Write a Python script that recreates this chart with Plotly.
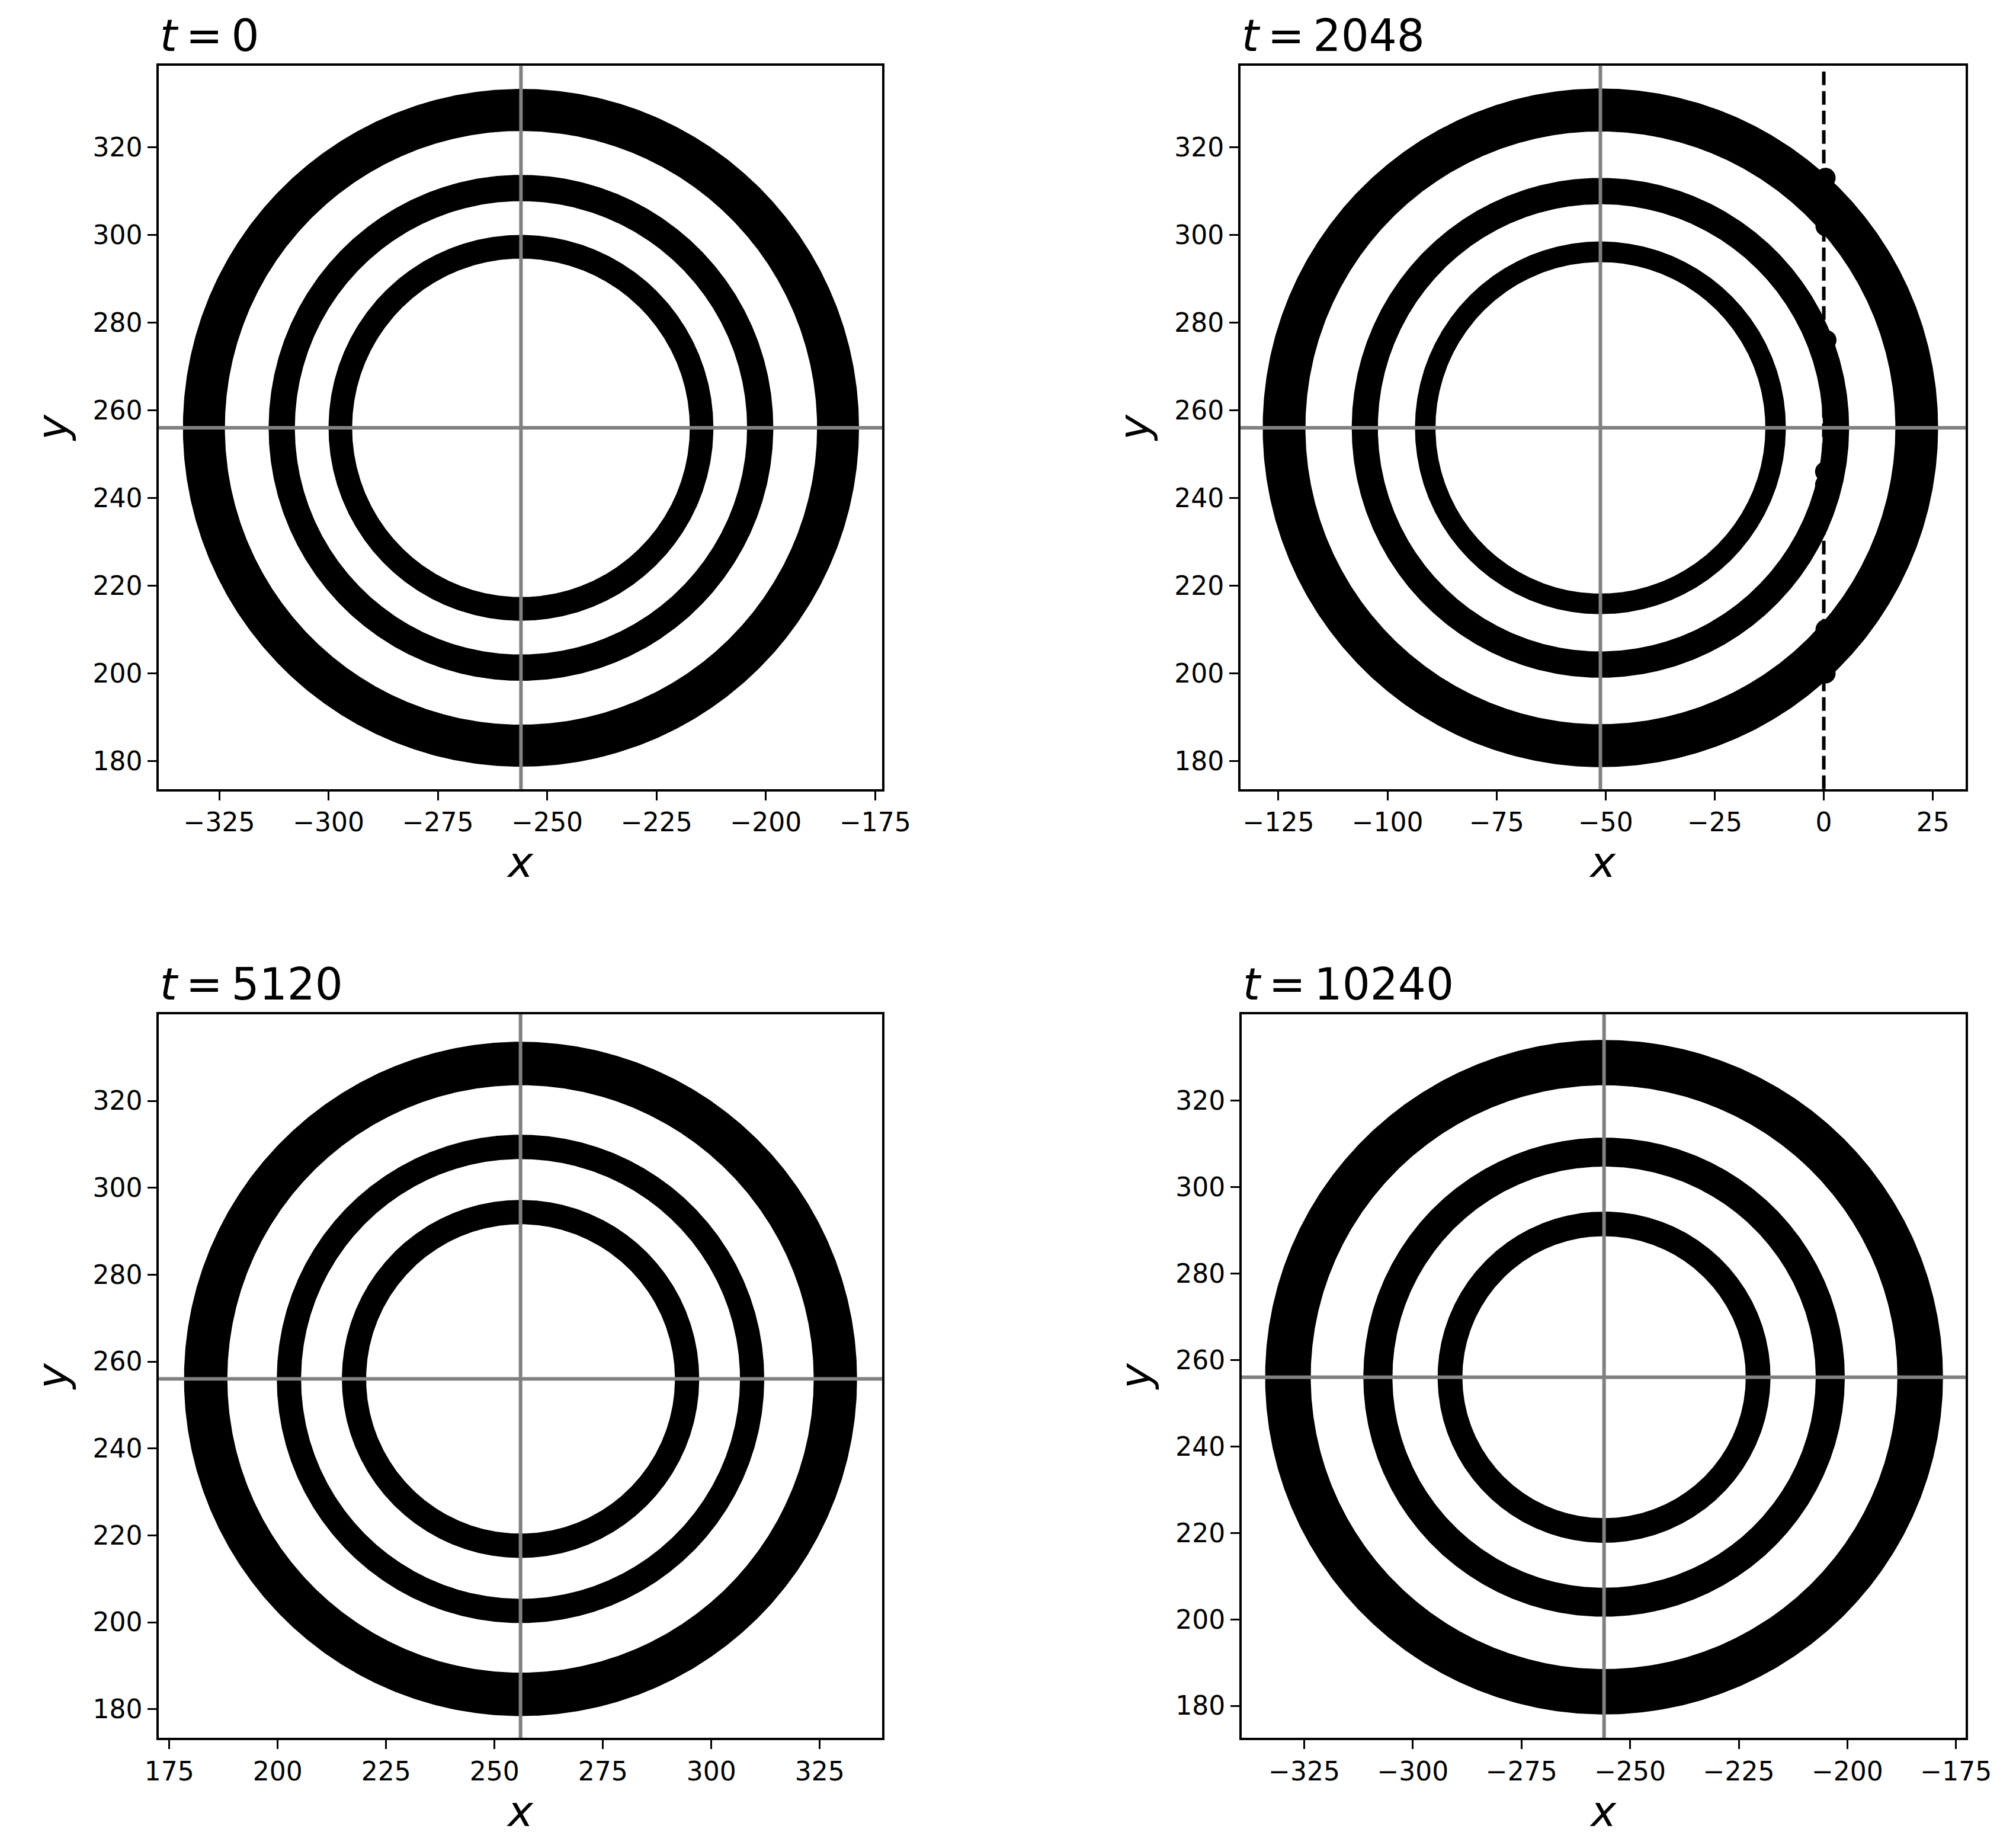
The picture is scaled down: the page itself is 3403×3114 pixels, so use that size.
import numpy as np
import plotly.graph_objects as go

# panel times and ring geometry
times = [0, 2048, 5120, 10240]
center_x = [-256.0, -51.2, 256.0, -256.0]
center_y = [256.0, 256.0, 256.0, 256.0]
ring_inner = [[38.6, 51.7, 67.7], [37.8, 51.0, 67.6], [35.6, 50.6, 67.6], [32.6, 48.7, 67.5]]
ring_outer = [[44.0, 57.7, 77.3], [42.5, 57.0, 77.4], [41.2, 56.2, 77.6], [38.3, 55.4, 78.0]]

x_ranges = [[-338.8, -173.4], [-133.7, 32.5], [172.6, 339.4], [-339.4, -172.8]]
y_ranges = [[173.6, 338.6], [173.6, 338.6], [173.4, 339.9], [172.6, 339.9]]
x_ticks = [[-325, -300, -275, -250, -225, -200, -175],
           [-125, -100, -75, -50, -25, 0, 25],
           [175, 200, 225, 250, 275, 300, 325],
           [-325, -300, -275, -250, -225, -200, -175]]
y_ticks = [180, 200, 220, 240, 260, 280, 300, 320]

# periodic boundary (panel t=2048) and particle clumps sitting on it
boundary_x = 0.0
blob_x = [0.4, 0.4, 0.4, 0.4, 0.6, 0.6, 0.3, 0.3, 0.4, 0.4]
blob_y = [313.0, 309.0, 305.0, 302.0, 276.0, 270.0, 246.0, 243.0, 210.0, 200.0]

# axes boxes in paper coordinates (page body adds an 8 px offset)
W, H = 3403, 3114
dx, dy = 8 / W, 8 / H
x_domains = [[0.0788 - dx, 0.4376 - dx], [0.6153 - dx, 0.9750 - dx],
             [0.0788 - dx, 0.4376 - dx], [0.6159 - dx, 0.9750 - dx]]
y_domains = [[0.5723 + dy, 0.9644 + dy], [0.5723 + dy, 0.9644 + dy],
             [0.0581 + dy, 0.4502 + dy], [0.0581 + dy, 0.4502 + dy]]

FONT = "DejaVu Sans"
GREY = "#808080"


def annulus(cx, cy, r_in, r_out, n=721):
    """Closed outline of a ring: outer edge counter-clockwise, inner edge clockwise."""
    th = np.linspace(0, 2 * np.pi, n)
    xs = np.concatenate([cx + r_out * np.cos(th), cx + r_in * np.cos(th[::-1])])
    ys = np.concatenate([cy + r_out * np.sin(th), cy + r_in * np.sin(th[::-1])])
    return xs, ys


def fmt(v):
    return f"\u2212{abs(v)}" if v < 0 else str(v)


fig = go.Figure()
layout = dict(
    width=W, height=H,
    margin=dict(l=0, r=0, t=0, b=0, autoexpand=False),
    paper_bgcolor="white", plot_bgcolor="white",
    showlegend=False,
    font=dict(family=FONT, color="black"),
)
shapes = []
annotations = []

for i in range(4):
    sfx = "" if i == 0 else str(i + 1)
    xa, ya = "x" + sfx, "y" + sfx

    for r_in, r_out in zip(ring_inner[i], ring_outer[i]):
        xs, ys = annulus(center_x[i], center_y[i], r_in, r_out)
        fig.add_trace(go.Scatter(
            x=xs, y=ys, xaxis=xa, yaxis=ya,
            mode="lines", fill="toself", fillcolor="black",
            line=dict(width=0, color="black"), hoverinfo="skip",
        ))

    if i == 1:
        fig.add_trace(go.Scatter(
            x=blob_x, y=blob_y, xaxis=xa, yaxis=ya, mode="markers",
            marker=dict(size=34, color="black", line=dict(width=0)),
            hoverinfo="skip",
        ))
        shapes.append(dict(type="line", xref=xa, yref=ya + " domain",
                           x0=boundary_x, x1=boundary_x, y0=0, y1=1,
                           line=dict(color="black", width=6, dash="23px,10px")))

    # cross-hair through the ring centre
    shapes.append(dict(type="line", xref=xa + " domain", yref=ya,
                       x0=0, x1=1, y0=center_y[i], y1=center_y[i],
                       line=dict(color=GREY, width=6)))
    shapes.append(dict(type="line", xref=xa, yref=ya + " domain",
                       x0=center_x[i], x1=center_x[i], y0=0, y1=1,
                       line=dict(color=GREY, width=6)))

    axis_common = dict(
        showgrid=False, zeroline=False, automargin=False,
        showline=True, mirror=True, linecolor="black", linewidth=3.5,
        ticks="outside", ticklen=15, tickwidth=3.3, tickcolor="black",
        tickfont=dict(family=FONT, size=44, color="black"),
    )
    layout["xaxis" + sfx] = dict(
        axis_common, domain=x_domains[i], range=x_ranges[i], anchor=ya,
        tickvals=x_ticks[i], ticktext=[fmt(v) for v in x_ticks[i]],
        title=dict(text="<i>x</i>", font=dict(family=FONT, size=72), standoff=14),
    )
    layout["yaxis" + sfx] = dict(
        axis_common, domain=y_domains[i], range=y_ranges[i], anchor=xa,
        tickvals=y_ticks, ticktext=[str(v) for v in y_ticks],
        title=dict(text="<i>y</i>", font=dict(family=FONT, size=72), standoff=20),
    )

    annotations.append(dict(
        text=f"<i>t</i>\u2009=\u2009{times[i]}", xref="paper", yref="paper",
        x=x_domains[i][0], y=y_domains[i][1], xanchor="left", yanchor="bottom",
        yshift=6, showarrow=False, font=dict(family=FONT, size=74, color="black"),
    ))

layout["shapes"] = shapes
layout["annotations"] = annotations
fig.update_layout(**layout)

fig.write_html("out.html")
